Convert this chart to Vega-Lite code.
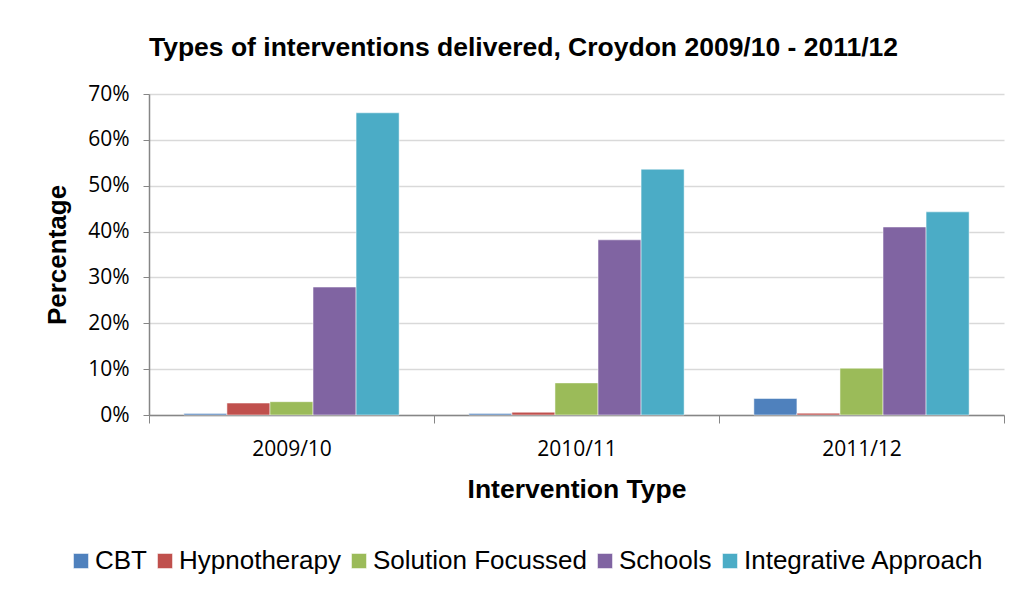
{
  "$schema": "https://vega.github.io/schema/vega-lite/v6.json",
  "autosize": "none",
  "width": 855,
  "height": 321,
  "padding": {"left": 149, "top": 94, "right": 20, "bottom": 176},
  "background": "white",
  "title": {
    "text": "Types of interventions delivered, Croydon 2009/10 - 2011/12",
    "font": "Liberation Sans",
    "fontSize": 26.5,
    "fontWeight": "bold",
    "color": "#000000",
    "anchor": "middle",
    "dx": -53,
    "offset": 22
  },
  "data": {
    "values": [
      {"year": "2009/10", "type": "CBT", "value": 0.003},
      {"year": "2009/10", "type": "Hypnotherapy", "value": 0.026},
      {"year": "2009/10", "type": "Solution Focussed", "value": 0.029},
      {"year": "2009/10", "type": "Schools", "value": 0.279},
      {"year": "2009/10", "type": "Integrative Approach", "value": 0.659},
      {"year": "2010/11", "type": "CBT", "value": 0.003},
      {"year": "2010/11", "type": "Hypnotherapy", "value": 0.006},
      {"year": "2010/11", "type": "Solution Focussed", "value": 0.070},
      {"year": "2010/11", "type": "Schools", "value": 0.382},
      {"year": "2010/11", "type": "Integrative Approach", "value": 0.536},
      {"year": "2011/12", "type": "CBT", "value": 0.036},
      {"year": "2011/12", "type": "Hypnotherapy", "value": 0.004},
      {"year": "2011/12", "type": "Solution Focussed", "value": 0.102},
      {"year": "2011/12", "type": "Schools", "value": 0.410},
      {"year": "2011/12", "type": "Integrative Approach", "value": 0.443}
    ]
  },
  "mark": {"type": "bar"},
  "encoding": {
    "x": {
      "field": "year",
      "type": "nominal",
      "scale": {"paddingInner": 0, "paddingOuter": 0},
      "axis": {
        "title": "Intervention Type",
        "titleFont": "Liberation Sans",
        "titleFontSize": 26.5,
        "titleFontWeight": "bold",
        "titleColor": "#000000",
        "titlePadding": 17,
        "labelFont": "Open Sans",
        "labelFontSize": 21,
        "labelColor": "#000000",
        "labelAngle": 0,
        "labelPadding": 15,
        "tickBand": "extent",
        "tickSize": 8,
        "tickColor": "#868686",
        "domainColor": "#868686",
        "domainWidth": 1.5,
        "grid": false
      }
    },
    "xOffset": {
      "field": "type",
      "type": "nominal",
      "sort": ["CBT", "Hypnotherapy", "Solution Focussed", "Schools", "Integrative Approach"],
      "scale": {"paddingInner": 0, "paddingOuter": 0.81}
    },
    "y": {
      "field": "value",
      "type": "quantitative",
      "scale": {"domain": [0, 0.7]},
      "axis": {
        "title": "Percentage",
        "titleFont": "Liberation Sans",
        "titleFontSize": 26,
        "titleFontWeight": "bold",
        "titleColor": "#000000",
        "titlePadding": 17,
        "format": ".0%",
        "values": [0, 0.1, 0.2, 0.3, 0.4, 0.5, 0.6, 0.7],
        "labelFont": "Open Sans",
        "labelFontSize": 21,
        "labelColor": "#000000",
        "labelPadding": 14,
        "tickSize": 6,
        "tickColor": "#868686",
        "domainColor": "#868686",
        "domainWidth": 1.5,
        "gridColor": "#D9D9D9",
        "gridWidth": 1.3
      }
    },
    "color": {
      "field": "type",
      "type": "nominal",
      "scale": {
        "domain": ["CBT", "Hypnotherapy", "Solution Focussed", "Schools", "Integrative Approach"],
        "range": ["#4F81BD", "#C0504D", "#9BBB59", "#8064A2", "#4BACC6"]
      },
      "legend": {
        "title": null,
        "orient": "none",
        "direction": "horizontal",
        "legendX": -81,
        "legendY": 454,
        "symbolType": "square",
        "symbolSize": 225,
        "symbolStrokeWidth": 0,
        "labelFont": "Liberation Sans",
        "labelFontSize": 26,
        "labelColor": "#000000",
        "labelOffset": 1,
        "labelLimit": 500,
        "columnPadding": 5
      }
    }
  },
  "config": {
    "view": {"stroke": null},
    "bar": {"stroke": "white", "strokeWidth": 0.5}
  }
}
